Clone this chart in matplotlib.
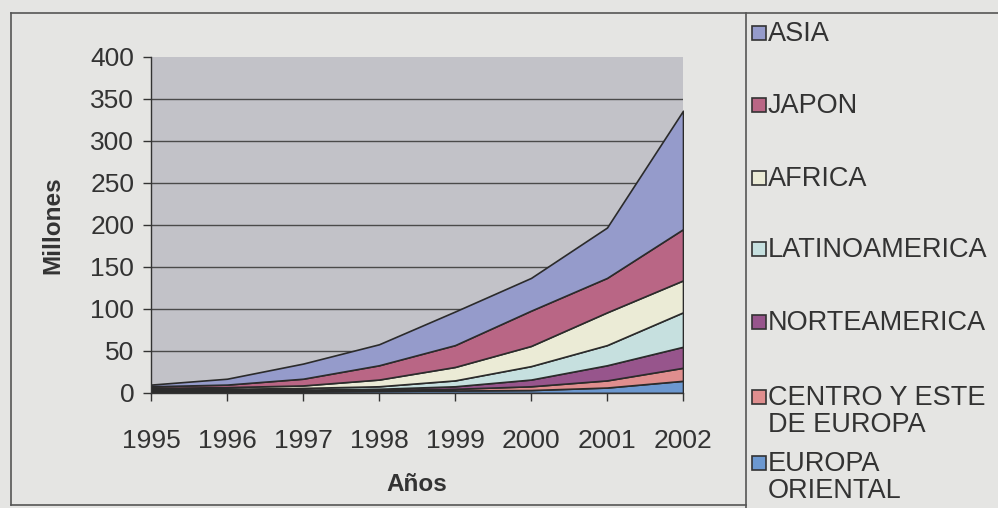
import matplotlib
matplotlib.use("Agg")
import matplotlib.pyplot as plt
from matplotlib.patches import Rectangle
from matplotlib.lines import Line2D
import numpy as np

years = [1995, 1996, 1997, 1998, 1999, 2000, 2001, 2002]
# stacking order bottom -> top
series_names = ["EUROPA ORIENTAL", "CENTRO Y ESTE DE EUROPA", "NORTEAMERICA",
                "LATINOAMERICA", "AFRICA", "JAPON", "ASIA"]
europa_oriental = [2, 2, 2, 2.5, 3, 3.5, 6.5, 14.5]
centro_este = [1, 1, 1, 1, 2, 4.5, 8.5, 15.5]
norteamerica = [1, 1, 1, 1.5, 3, 8, 18, 25]
latinoamerica = [1, 1, 2, 3, 7, 16, 24, 41]
africa = [1, 2, 3, 8, 16, 24, 39, 38]
japon = [2, 3, 8, 17, 26, 42, 41, 61]
asia = [2, 7, 18, 25, 40, 39, 60, 141]
values = [europa_oriental, centro_este, norteamerica, latinoamerica, africa, japon, asia]
colors = ["#6c98d0", "#df8e8e", "#97558c", "#c6e0df", "#ebebd6", "#b96685", "#959bcb"]

legend_labels = ["ASIA", "JAPON", "AFRICA", "LATINOAMERICA", "NORTEAMERICA",
                 "CENTRO Y ESTE\nDE EUROPA", "EUROPA\nORIENTAL"]
legend_colors = [colors[6], colors[5], colors[4], colors[3], colors[2], colors[1], colors[0]]
y_ticks = [0, 50, 100, 150, 200, 250, 300, 350, 400]

plt.rcParams['font.family'] = ['Liberation Sans', 'DejaVu Sans']
W, H = 998, 508
fig = plt.figure(figsize=(W / 100, H / 100), dpi=100)
bg = "#e5e5e3"
fig.patch.set_facecolor(bg)

ax = fig.add_axes([151 / W, 1 - 393 / H, (683 - 151) / W, (393 - 57) / H])
ax.set_facecolor("#c2c2c8")

ax.stackplot(years, *values, colors=colors, edgecolor="#2b2b2b", linewidth=1.2, zorder=3)

ax.set_xlim(1995, 2002)
ax.set_ylim(0, 400)
ax.set_yticks(y_ticks)
ax.set_yticklabels([str(t) for t in y_ticks])
ax.set_xticks(years)
ax.set_xticklabels([str(y) for y in years])
for t in y_ticks[1:-1]:
    ax.axhline(t, color="#4a4a4a", linewidth=1.0, zorder=1)

for s in ["top", "right"]:
    ax.spines[s].set_visible(False)
for s in ["left", "bottom"]:
    ax.spines[s].set_color("#333333")
    ax.spines[s].set_linewidth(1.0)
    ax.spines[s].set_zorder(4)
ax.tick_params(axis="both", direction="out", length=6, width=1, color="#333333",
               labelsize=19, labelcolor="#333333")
ax.tick_params(axis="x", pad=20)
ax.tick_params(axis="y", pad=6)

ax.set_ylabel("Millones", fontsize=17.5, fontweight="bold", color="#333333", labelpad=19)
ax.set_xlabel("Años", fontsize=17.5, fontweight="bold", color="#333333", labelpad=14)

# outer frame lines
fig.add_artist(Line2D([11 / W, 1.0], [1 - 13 / H, 1 - 13 / H], transform=fig.transFigure,
                      color="#555555", linewidth=1.2))
fig.add_artist(Line2D([11 / W, 11 / W], [1 - 13 / H, 1 - 505 / H], transform=fig.transFigure,
                      color="#555555", linewidth=1.2))
fig.add_artist(Line2D([11 / W, 746 / W], [1 - 505 / H, 1 - 505 / H], transform=fig.transFigure,
                      color="#555555", linewidth=1.2))
fig.add_artist(Line2D([746 / W, 746 / W], [1 - 13 / H, 0.0], transform=fig.transFigure,
                      color="#555555", linewidth=1.2))

# legend
entry_y = [33, 105, 178, 249, 322, 397, 463]
for lab, col, yy in zip(legend_labels, legend_colors, entry_y):
    fig.add_artist(Rectangle((752 / W, 1 - (yy + 7) / H), 14 / W, 14 / H,
                             transform=fig.transFigure, facecolor=col,
                             edgecolor="#333333", linewidth=1.2))
    fig.text(768 / W, 1 - (yy - 12) / H, lab, fontsize=19.5, color="#333333",
             va="top", ha="left", linespacing=1.05)

fig.savefig("out.png", dpi=100, facecolor=bg)
